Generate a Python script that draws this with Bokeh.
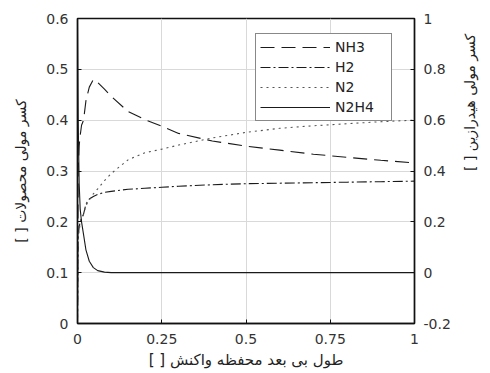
import math
from bokeh.plotting import figure
from bokeh.models import Range1d, LinearAxis, FixedTicker, Legend, LegendItem
from bokeh.embed import file_html
from bokeh.resources import INLINE

x = [0, 0.002, 0.005, 0.008, 0.012, 0.018, 0.025, 0.035, 0.047, 0.06, 0.08, 0.1,
     0.15, 0.2, 0.25, 0.3, 0.4, 0.5, 0.6, 0.7, 0.8, 0.9, 1.0]
nh3 = [0, 0.30, 0.35, 0.37, 0.39, 0.40, 0.438, 0.465, 0.48, 0.474, 0.461, 0.447,
       0.417, 0.401, 0.388, 0.374, 0.359, 0.349, 0.341, 0.333, 0.327, 0.321, 0.316]
h2 = [0, 0.17, 0.19, 0.2, 0.207, 0.215, 0.235, 0.245, 0.25, 0.254, 0.258, 0.26,
      0.264, 0.266, 0.268, 0.27, 0.273, 0.275, 0.276, 0.277, 0.278, 0.279, 0.28]
n2 = [0, 0.17, 0.185, 0.195, 0.205, 0.215, 0.232, 0.243, 0.255, 0.265, 0.281, 0.295,
      0.322, 0.336, 0.343, 0.351, 0.365, 0.376, 0.384, 0.389, 0.393, 0.397, 0.40]
n2h4 = [1.0, 0.6, 0.35, 0.25, 0.2, 0.15, 0.09, 0.045, 0.02, 0.008, 0.002, 0.0,
        0, 0, 0, 0, 0, 0, 0, 0, 0, 0, 0]

x_ticks = [0, 0.25, 0.5, 0.75, 1]
x_tick_labels = ["0", "0.25", "0.5", "0.75", "1"]
left_ticks = [0, 0.1, 0.2, 0.3, 0.4, 0.5, 0.6]
left_tick_labels = ["0", "0.1", "0.2", "0.3", "0.4", "0.5", "0.6"]
right_ticks = [-0.2, 0, 0.2, 0.4, 0.6, 0.8, 1]
right_tick_labels = ["-0.2", "0", "0.2", "0.4", "0.6", "0.8", "1"]

RLM = "\u200F"
x_label = "طول بی بعد محفظه واکنش [ ]" + RLM
left_label = "کسر مولی محصولات [ ]" + RLM
right_label = "کسر مولی هیدرازین [ ]" + RLM

TICK_FONT = "DejaVu Sans"
FA_FONT = "DejaVu Sans"

p = figure(width=490, height=373, output_backend="svg", toolbar_location=None,
           x_range=Range1d(0, 1), y_range=Range1d(0, 0.6))
p.min_border_left = 77
p.min_border_right = 76
p.min_border_top = 18
p.min_border_bottom = 50
p.extra_y_ranges = {"right": Range1d(-0.2, 1)}
p.background_fill_color = "white"
p.border_fill_color = "white"
p.outline_line_color = "#111111"
p.outline_line_width = 1.4

def style_axis(ax, ticks, labels):
    ax.ticker = FixedTicker(ticks=ticks)
    ax.major_label_overrides = {t: l for t, l in zip(ticks, labels)}
    ax.major_tick_in = 4
    ax.major_tick_out = 0
    ax.minor_tick_in = 0
    ax.minor_tick_out = 0
    ax.axis_line_color = "#111111"
    ax.axis_line_width = 1.4
    ax.major_tick_line_color = "#111111"
    ax.major_label_text_font = TICK_FONT
    ax.major_label_text_font_size = "14px"
    ax.major_label_text_color = "#333333"
    ax.axis_label_text_font = FA_FONT
    ax.axis_label_text_font_size = "14px"
    ax.axis_label_text_font_style = "normal"
    ax.axis_label_text_color = "#222222"

xa = p.xaxis[0]
style_axis(xa, x_ticks, x_tick_labels)
xa.major_label_standoff = 10
xa.axis_label = x_label
xa.axis_label_text_font_size = "15px"
xa.axis_label_standoff = 4

ya = p.yaxis[0]
style_axis(ya, left_ticks, left_tick_labels)
ya.major_label_standoff = 9
ya.axis_label = left_label
ya.axis_label_standoff = 14

ra = LinearAxis(y_range_name="right")
style_axis(ra, right_ticks, right_tick_labels)
ra.major_label_standoff = 9
ra.axis_label = right_label
ra.axis_label_standoff = 16
if "axis_label_orientation" in ra.properties():
    ra.axis_label_orientation = math.pi / 2
p.add_layout(ra, "right")

p.xgrid.ticker = FixedTicker(ticks=x_ticks)
p.ygrid.ticker = FixedTicker(ticks=left_ticks)
p.grid.grid_line_color = "#d9d9d9"
p.grid.grid_line_width = 1

c = "#1a1a1a"
r1 = p.line(x, nh3, line_color=c, line_width=1.1, line_dash="14 7")
r2 = p.line(x, h2, line_color=c, line_width=1.1, line_dash="10 3 2 3")
r3 = p.line(x, n2, line_color="#555555", line_width=1.1, line_dash="2 4")
r4 = p.line(x, n2h4, line_color=c, line_width=1.1, y_range_name="right")

legend = Legend(items=[LegendItem(label="NH3", renderers=[r1]),
                       LegendItem(label="H2", renderers=[r2]),
                       LegendItem(label="N2", renderers=[r3]),
                       LegendItem(label="N2H4", renderers=[r4])],
                location=(178, 202))
legend.label_text_font = TICK_FONT
legend.label_text_font_size = "14px"
legend.label_text_color = "#222222"
legend.glyph_width = 70
legend.glyph_height = 18
legend.label_height = 18
legend.label_width = 52
legend.spacing = 2
legend.padding = 4
legend.margin = 0
legend.label_standoff = 5
legend.border_line_color = "#111111"
legend.border_line_width = 1.4
legend.background_fill_alpha = 1
p.add_layout(legend)

open("out.html", "w").write(file_html(p, INLINE))
